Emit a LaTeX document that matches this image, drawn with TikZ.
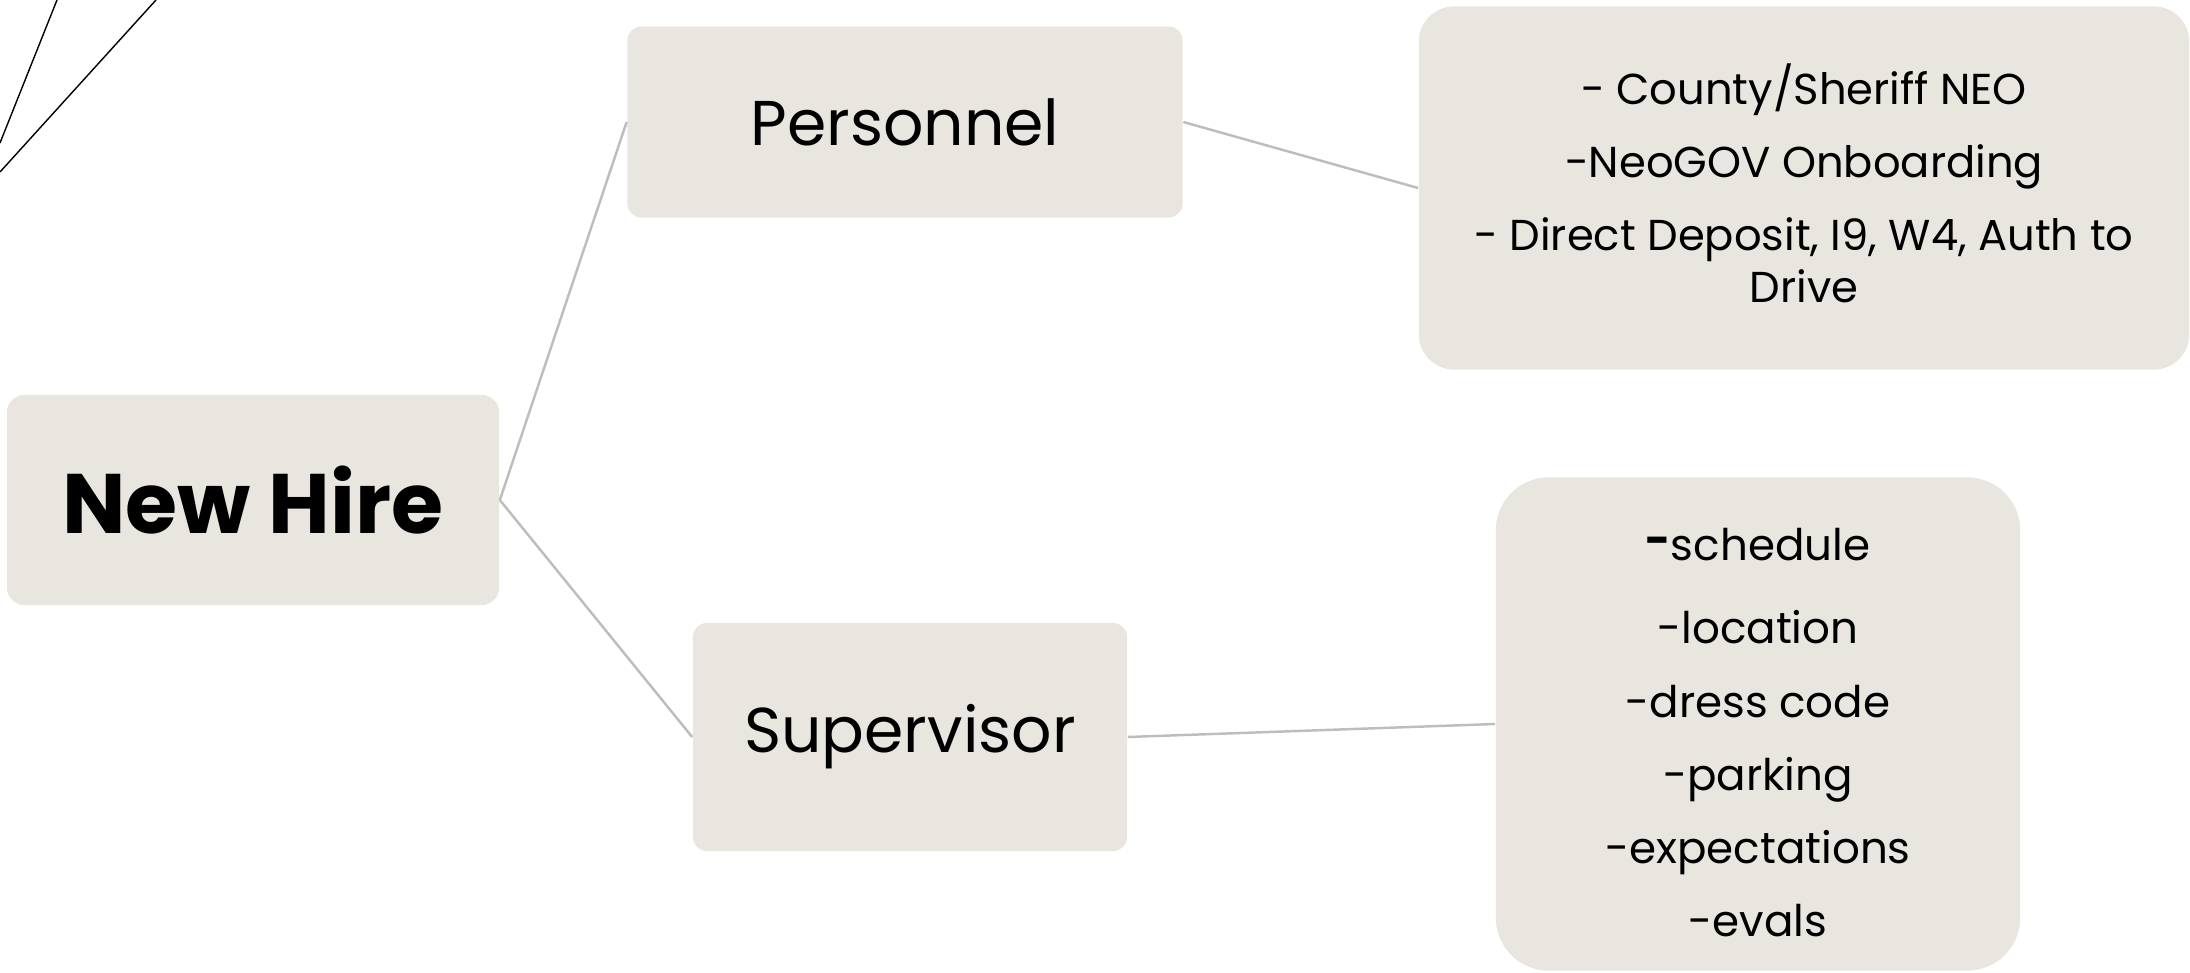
\documentclass[tikz,border=0pt]{standalone}
\usepackage{fontspec}
\setmainfont{Poppins}
\definecolor{boxfill}{HTML}{E8E6DF}
\definecolor{linkgray}{HTML}{BDBDBD}

\begin{document}
\begin{tikzpicture}[x=0.01cm, y=-0.01cm,
	box/.style={fill=boxfill, inner sep=0pt, align=center},
	link/.style={draw=linkgray, line width=0.7pt}]

	\useasboundingbox (0,0) rectangle (2190,973);

	% strokes in the upper left corner
	\draw[line width=0.4pt] (57,0) -- (0,143);
	\draw[line width=0.4pt] (156,0) -- (0,172);

	\node[box, rounded corners=5pt, minimum width=4.92cm, minimum height=2.10cm,
		font=\fontsize{24}{28}\selectfont\bfseries] (newhire) at (253,500) {New Hire};

	\node[box, rounded corners=4pt, minimum width=5.55cm, minimum height=1.91cm,
		font=\fontsize{18}{21}\selectfont] (personnel) at (905,122) {Personnel};
	\node[box, rounded corners=4pt, minimum width=4.34cm, minimum height=2.28cm,
		font=\fontsize{18}{21}\selectfont] (supervisor) at (910,737) {Supervisor};

	\node[box, rounded corners=10pt, minimum width=7.70cm, minimum height=3.63cm,
		font=\fontsize{12.3}{14.8}\selectfont] (personnelinfo) at (1804,188)
		{- County/Sheriff NEO\\[6pt]
		 -NeoGOV Onboarding\\[6pt]
		 - Direct Deposit, I9, W4, Auth to\\
		 Drive\vspace{2.5pt}};
	\node[box, rounded corners=15pt, minimum width=5.24cm, minimum height=4.93cm,
		font=\fontsize{12.4}{14.8}\selectfont] (supervisorinfo) at (1758,724)
		{\rule{0pt}{14pt}\raisebox{1.5pt}{\bfseries -}schedule\\[9pt]
		 -location\\[6pt]
		 -dress code\\[6pt]
		 -parking\\[6pt]
		 -expectations\\[6pt]
		 -evals};

	% links
	\draw[link] (newhire.east) -- (personnel.west);
	\draw[link] (newhire.east) -- (supervisor.west);
	\draw[link] (personnel.east) -- (personnelinfo.west);
	\draw[link] (supervisor.east) -- (supervisorinfo.west);

\end{tikzpicture}
\end{document}
